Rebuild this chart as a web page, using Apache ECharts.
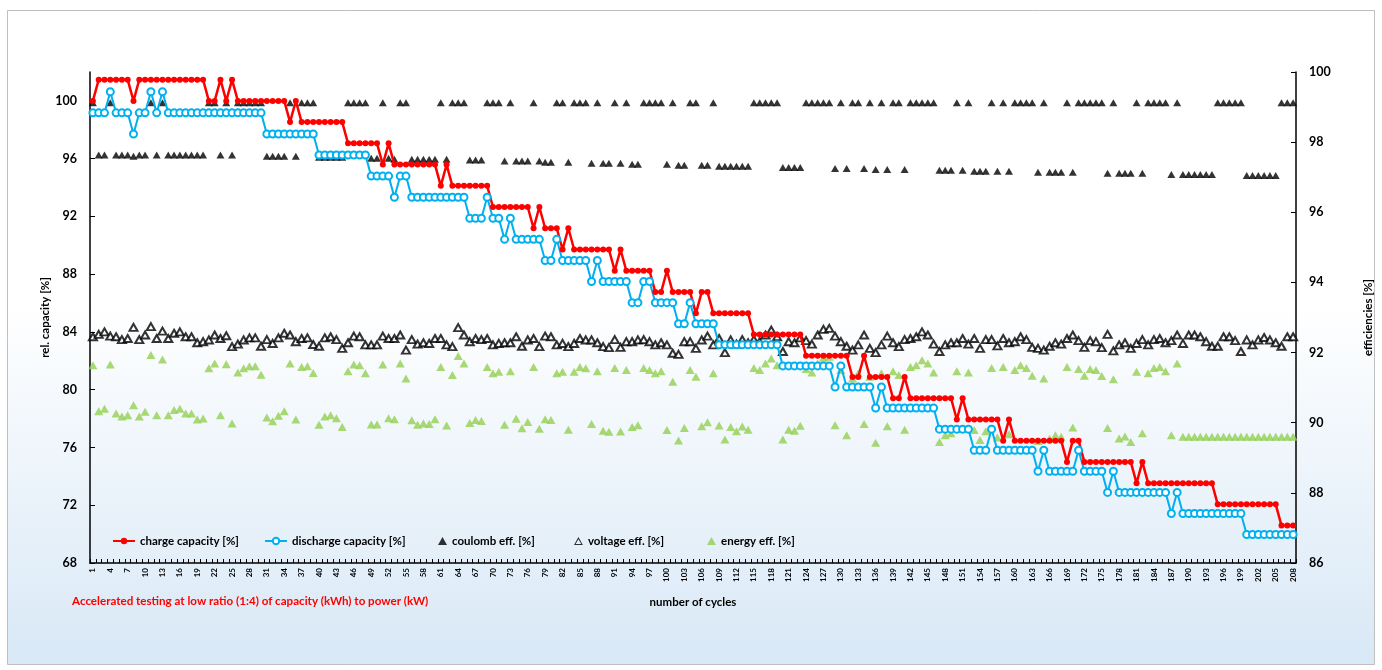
<!DOCTYPE html>
<html>
<head>
<meta charset="utf-8">
<script src="https://cdn.jsdelivr.net/npm/echarts@6/dist/echarts.min.js"></script>
<style>
html,body{margin:0;padding:0;background:#fff;}
#c{width:1382px;height:670px;}
</style>
</head>
<body>
<div id="c"></div>
<script>
const cycles = [1,2,3,4,5,6,7,8,9,10,11,12,13,14,15,16,17,18,19,20,21,22,23,24,25,26,27,28,29,30,31,32,33,34,35,36,37,38,39,40,
41,42,43,44,45,46,47,48,49,50,51,52,53,54,55,56,57,58,59,60,61,62,63,64,65,66,67,68,69,70,71,72,73,74,75,76,77,78,79,80,
81,82,83,84,85,86,87,88,89,90,91,92,93,94,95,96,97,98,99,100,101,102,103,104,105,106,107,108,109,110,111,112,113,114,115,116,117,118,119,120,
121,122,123,124,125,126,127,128,129,130,131,132,133,134,135,136,137,138,139,140,141,142,143,144,145,146,147,148,149,150,151,152,153,154,155,156,157,158,159,160,
161,162,163,164,165,166,167,168,169,170,171,172,173,174,175,176,177,178,179,180,181,182,183,184,185,186,187,188,189,190,191,192,193,194,195,196,197,198,199,200,
201,202,203,204,205,206,207,208];

const chargeCapacity = [
100.0,101.47,101.47,101.47,101.47,101.47,101.47,100.0,101.47,101.47,
101.47,101.47,101.47,101.47,101.47,101.47,101.47,101.47,101.47,101.47,
100.0,100.0,101.47,100.0,101.47,100.0,100.0,100.0,100.0,100.0,
100.0,100.0,100.0,100.0,98.53,100.0,98.53,98.53,98.53,98.53,
98.53,98.53,98.53,98.53,97.06,97.06,97.06,97.06,97.06,97.06,
95.59,97.06,95.59,95.59,95.59,95.59,95.59,95.59,95.59,95.59,
94.12,95.59,94.12,94.12,94.12,94.12,94.12,94.12,94.12,92.65,
92.65,92.65,92.65,92.65,92.65,92.65,91.18,92.65,91.18,91.18,
91.18,89.71,91.18,89.71,89.71,89.71,89.71,89.71,89.71,89.71,
88.24,89.71,88.24,88.24,88.24,88.24,88.24,86.76,86.76,88.24,
86.76,86.76,86.76,86.76,85.29,86.76,86.76,85.29,85.29,85.29,
85.29,85.29,85.29,85.29,83.82,83.82,83.82,83.82,83.82,83.82,
83.82,83.82,83.82,82.35,82.35,82.35,82.35,82.35,82.35,82.35,
82.35,80.88,80.88,82.35,80.88,80.88,80.88,80.88,79.41,79.41,
80.88,79.41,79.41,79.41,79.41,79.41,79.41,79.41,79.41,77.94,
79.41,77.94,77.94,77.94,77.94,77.94,77.94,76.47,77.94,76.47,
76.47,76.47,76.47,76.47,76.47,76.47,76.47,76.47,75.0,76.47,
76.47,75.0,75.0,75.0,75.0,75.0,75.0,75.0,75.0,75.0,
73.53,75.0,73.53,73.53,73.53,73.53,73.53,73.53,73.53,73.53,
73.53,73.53,73.53,73.53,72.06,72.06,72.06,72.06,72.06,72.06,
72.06,72.06,72.06,72.06,72.06,70.59,70.59,70.59];

const dischargeCapacity = [
99.17,99.17,99.17,100.63,99.17,99.17,99.17,97.71,99.17,99.17,
100.63,99.17,100.63,99.17,99.17,99.17,99.17,99.17,99.17,99.17,
99.17,99.17,99.17,99.17,99.17,99.17,99.17,99.17,99.17,99.17,
97.71,97.71,97.71,97.71,97.71,97.71,97.71,97.71,97.71,96.25,
96.25,96.25,96.25,96.25,96.25,96.25,96.25,96.25,94.79,94.79,
94.79,94.79,93.33,94.79,94.79,93.33,93.33,93.33,93.33,93.33,
93.33,93.33,93.33,93.33,93.33,91.87,91.87,91.87,93.33,91.87,
91.87,90.41,91.87,90.41,90.41,90.41,90.41,90.41,88.95,88.95,
90.41,88.95,88.95,88.95,88.95,88.95,87.49,88.95,87.49,87.49,
87.49,87.49,87.49,86.03,86.03,87.49,87.49,86.03,86.03,86.03,
86.03,84.57,84.57,86.03,84.57,84.57,84.57,84.57,83.11,83.11,
83.11,83.11,83.11,83.11,83.11,83.11,83.11,83.11,83.11,81.65,
81.65,81.65,81.65,81.65,81.65,81.65,81.65,81.65,80.19,81.65,
80.19,80.19,80.19,80.19,80.19,78.73,80.19,78.73,78.73,78.73,
78.73,78.73,78.73,78.73,78.73,78.73,77.27,77.27,77.27,77.27,
77.27,77.27,75.81,75.81,75.81,77.27,75.81,75.81,75.81,75.81,
75.81,75.81,75.81,74.35,75.81,74.35,74.35,74.35,74.35,74.35,
75.81,74.35,74.35,74.35,74.35,72.89,74.35,72.89,72.89,72.89,
72.89,72.89,72.89,72.89,72.89,72.89,71.43,72.89,71.43,71.43,
71.43,71.43,71.43,71.43,71.43,71.43,71.43,71.43,71.43,69.97,
69.97,69.97,69.97,69.97,69.97,69.97,69.97,69.97];

const coulombEff = [
99.12,97.63,97.63,99.12,97.63,97.63,97.63,97.60,97.63,97.63,
99.12,97.63,99.12,97.63,97.63,97.63,97.63,97.63,97.63,97.63,
99.12,99.12,97.63,99.12,97.63,99.12,99.12,99.12,99.12,99.12,
97.60,97.60,97.60,97.60,99.12,97.60,99.12,99.12,99.12,97.57,
97.57,97.57,97.57,97.57,99.12,99.12,99.12,99.12,97.54,97.54,
99.12,97.54,97.51,99.12,99.12,97.51,97.51,97.51,97.51,97.51,
99.12,97.51,99.12,99.12,99.12,97.49,97.49,97.49,99.12,99.12,
99.12,97.46,99.12,97.46,97.46,97.46,99.12,97.46,97.43,97.43,
99.12,99.12,97.43,99.12,99.12,99.12,97.40,99.12,97.40,97.40,
99.12,97.40,99.12,97.37,97.37,99.12,99.12,99.12,99.12,97.37,
99.12,97.34,97.34,99.12,99.12,97.34,97.34,99.12,97.31,97.31,
97.31,97.31,97.31,97.31,99.12,99.12,99.12,99.12,99.12,97.28,
97.28,97.28,97.28,99.12,99.12,99.12,99.12,99.12,97.25,99.12,
97.25,99.12,99.12,97.25,99.12,97.22,99.12,97.22,99.12,99.12,
97.22,99.12,99.12,99.12,99.12,99.12,97.20,97.20,97.20,99.12,
97.20,99.12,97.17,97.17,97.17,99.12,97.17,99.12,97.17,99.12,
99.12,99.12,99.12,97.14,99.12,97.14,97.14,97.14,99.12,97.14,
99.12,99.12,99.12,99.12,99.12,97.11,99.12,97.11,97.11,97.11,
99.12,97.11,99.12,99.12,99.12,99.12,97.08,99.12,97.08,97.08,
97.08,97.08,97.08,97.08,99.12,99.12,99.12,99.12,99.12,97.05,
97.05,97.05,97.05,97.05,97.05,99.12,99.12,99.12];

const voltageEff = [
92.45,92.52,92.59,92.47,92.45,92.37,92.40,92.72,92.37,92.50,
92.74,92.40,92.61,92.40,92.55,92.59,92.45,92.45,92.28,92.31,
92.36,92.50,92.40,92.48,92.17,92.24,92.36,92.42,92.42,92.18,
92.37,92.26,92.42,92.55,92.50,92.31,92.40,92.42,92.23,92.18,
92.42,92.45,92.37,92.12,92.28,92.47,92.45,92.22,92.22,92.22,
92.47,92.40,92.40,92.50,92.07,92.37,92.24,92.28,92.26,92.40,
92.40,92.22,92.17,92.71,92.50,92.31,92.40,92.37,92.40,92.22,
92.26,92.28,92.28,92.45,92.18,92.36,92.40,92.17,92.47,92.45,
92.22,92.26,92.17,92.26,92.40,92.36,92.36,92.28,92.17,92.14,
92.37,92.15,92.31,92.31,92.36,92.37,92.31,92.22,92.28,92.22,
91.98,91.95,92.31,92.31,92.12,92.36,92.47,92.22,92.40,92.00,
92.36,92.24,92.37,92.28,92.37,92.31,92.50,92.64,92.45,92.03,
92.31,92.28,92.42,92.34,92.24,92.50,92.66,92.69,92.47,92.31,
92.18,92.07,92.22,92.50,92.12,92.00,92.22,92.47,92.28,92.17,
92.37,92.40,92.45,92.59,92.50,92.24,92.03,92.22,92.28,92.28,
92.40,92.24,92.40,92.12,92.37,92.37,92.19,92.40,92.28,92.31,
92.45,92.37,92.15,92.12,92.07,92.18,92.28,92.24,92.40,92.50,
92.34,92.15,92.34,92.31,92.14,92.52,92.05,92.22,92.28,92.12,
92.26,92.37,92.22,92.37,92.40,92.28,92.34,92.50,92.26,92.50,
92.50,92.45,92.31,92.18,92.18,92.45,92.45,92.34,92.03,92.36,
92.22,92.36,92.43,92.36,92.28,92.18,92.45,92.45];

const energyEff = [
91.64,90.33,90.40,91.66,90.26,90.18,90.21,90.50,90.18,90.31,
91.93,90.21,91.80,90.21,90.36,90.40,90.26,90.26,90.09,90.12,
91.55,91.69,90.21,91.67,89.98,91.43,91.55,91.61,91.61,91.37,
90.15,90.04,90.20,90.33,91.69,90.09,91.59,91.61,91.42,89.94,
90.18,90.21,90.13,89.88,91.47,91.66,91.64,91.41,89.95,89.95,
91.66,90.13,90.10,91.69,91.26,90.07,89.94,89.98,89.96,90.10,
91.59,89.92,91.36,91.90,91.69,89.99,90.08,90.05,91.59,91.41,
91.45,89.94,91.47,90.11,89.84,90.02,91.59,89.83,90.10,90.08,
91.41,91.45,89.80,91.45,91.59,91.55,89.96,91.47,89.77,89.74,
91.56,89.75,91.50,89.88,89.93,91.56,91.50,91.41,91.47,89.79,
91.17,89.49,89.85,91.50,91.31,89.90,90.01,91.41,89.92,89.52,
89.88,89.76,89.89,89.80,91.56,91.50,91.69,91.83,91.64,89.52,
89.80,89.77,89.91,91.53,91.43,91.69,91.85,91.88,89.93,91.50,
89.64,91.26,91.41,89.96,91.31,89.43,91.41,89.90,91.47,91.36,
89.80,91.59,91.64,91.78,91.69,91.43,89.45,89.64,89.70,91.47,
89.82,91.43,89.79,89.51,89.76,91.56,89.58,91.59,89.67,91.50,
91.64,91.56,91.34,89.48,91.26,89.54,89.64,89.60,91.59,89.86,
91.53,91.34,91.53,91.50,91.33,89.85,91.24,89.55,89.61,89.45,
91.45,89.70,91.41,91.56,91.59,91.47,89.64,91.69,89.60,89.60,
89.60,89.60,89.60,89.60,89.60,89.60,89.60,89.60,89.60,89.60,
89.60,89.60,89.60,89.60,89.60,89.60,89.60,89.60];

const leftTicks = [68,72,76,80,84,88,92,96,100];
const rightTicks = [86,88,90,92,94,96,98,100];

const FONT = 'Lato';
const chart = echarts.init(document.getElementById('c'), null, {renderer:'canvas', width:1382, height:670});

const axisLineStyle = {color:'#000', width:1.5};
const legendText = {fontFamily:FONT, fontWeight:'bold', fontSize:11.5, color:'#000'};
function mkLegend(item, left, w, h){
  return {left:left, top:535, padding:0, itemWidth:w, itemHeight:h, itemGap:0,
          textStyle:legendText, data:[item]};
}
const option = {
  animation:false,
  backgroundColor:'#ffffff',
  textStyle:{fontFamily:FONT},
  graphic:[
    {type:'rect', z:-10, silent:true,
     shape:{x:7.5,y:10.5,width:1367,height:654},
     style:{
       fill:new echarts.graphic.LinearGradient(0,0,0,1,[
         {offset:0,color:'#ffffff'},{offset:0.45,color:'#ffffff'},{offset:1,color:'#d8e8f6'}]),
       stroke:'#bfbfbf', lineWidth:1}},
    {type:'text', left:72, top:595, z:10,
     style:{text:'Accelerated testing at low ratio (1:4) of capacity (kWh) to power (kW)',
            fill:'#ff0000', font:'bold 11.6px '+FONT}}
  ],
  grid:{left:90, top:72, width:1210, height:491, containLabel:false},
  legend:[
    mkLegend('charge capacity [%]', 112, 22, 8),
    mkLegend('discharge capacity [%]', 264, 22, 8),
    mkLegend('coulomb eff. [%]', 438, 9, 8),
    mkLegend({name:'voltage eff. [%]', icon:'path://M5,0L10,9L0,9Z M5,2.6L1.8,8L8.2,8Z',
              itemStyle:{color:'#000', borderWidth:0}}, 574, 9, 8),
    mkLegend('energy eff. [%]', 707, 9, 8)
  ],
  xAxis:{
    type:'category', data:cycles, boundaryGap:true,
    name:'number of cycles', nameLocation:'middle', nameGap:33, nameMoveOverlap:false,
    nameTextStyle:{fontFamily:FONT, fontWeight:'bold', fontSize:11.5, color:'#000'},
    axisLine:{show:true, lineStyle:axisLineStyle},
    axisTick:{show:true, interval:0, inside:true, length:4, lineStyle:{color:'#000', width:1}},
    axisLabel:{interval:2, rotate:90, margin:5, fontFamily:FONT, fontWeight:'bold', fontSize:8, color:'#000'},
    splitLine:{show:false}
  },
  yAxis:[
    {type:'value', position:'left', min:68, max:102, interval:4,
     name:'rel. capacity [%]', nameLocation:'middle', nameGap:39, nameRotate:90, nameMoveOverlap:false,
     nameTextStyle:{fontFamily:FONT, fontWeight:'bold', fontSize:11.5, color:'#000'},
     axisLine:{show:true, lineStyle:axisLineStyle},
     axisTick:{show:true, inside:true, length:5, customValues:leftTicks, lineStyle:{color:'#000', width:1}},
     axisLabel:{margin:13, customValues:leftTicks, fontFamily:FONT, fontWeight:'bold', fontSize:12.5, color:'#000',
       formatter:function(v){return leftTicks.indexOf(v)>=0 ? String(v) : '';}},
     splitLine:{show:false}},
    {type:'value', position:'right', min:86, max:100, interval:2,
     name:'efficiencies [%]', nameLocation:'middle', nameGap:66, nameRotate:90, nameMoveOverlap:false,
     nameTextStyle:{fontFamily:FONT, fontWeight:'bold', fontSize:11.5, color:'#000'},
     axisLine:{show:true, lineStyle:axisLineStyle},
     axisTick:{show:true, inside:true, length:5, customValues:rightTicks, lineStyle:{color:'#000', width:1}},
     axisLabel:{margin:13, customValues:rightTicks, fontFamily:FONT, fontWeight:'bold', fontSize:12.5, color:'#000'},
     splitLine:{show:false}}
  ],
  series:[
    {name:'charge capacity [%]', type:'line', yAxisIndex:0, data:chargeCapacity,
     symbol:'circle', symbolSize:6, showAllSymbol:true,
     lineStyle:{color:'#ff0000', width:2.5}, itemStyle:{color:'#ff0000'}},
    {name:'discharge capacity [%]', type:'line', yAxisIndex:0, data:dischargeCapacity,
     symbol:'emptyCircle', symbolSize:7, showAllSymbol:true,
     lineStyle:{color:'#00b0f0', width:2}, itemStyle:{color:'#00b0f0', borderWidth:1.4}},
    {name:'coulomb eff. [%]', type:'scatter', yAxisIndex:1, data:coulombEff,
     symbol:'triangle', symbolSize:[8,7], itemStyle:{color:'#000'}},
    {name:'voltage eff. [%]', type:'scatter', yAxisIndex:1, data:voltageEff,
     symbol:'emptyTriangle', symbolSize:[8,7], itemStyle:{color:'#000', borderColor:'#000', borderWidth:1}},
    {name:'energy eff. [%]', type:'scatter', yAxisIndex:1, data:energyEff,
     symbol:'triangle', symbolSize:[9,8], itemStyle:{color:'#92d050'}}
  ]
};
chart.setOption(option);
</script>
</body>
</html>
